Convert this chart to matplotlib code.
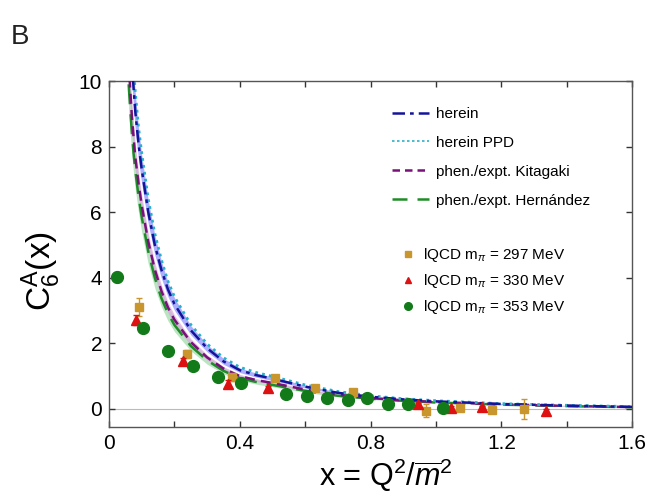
import matplotlib
matplotlib.use("Agg")
import matplotlib.pyplot as plt
from matplotlib.lines import Line2D

plt.rcParams['font.family'] = ['Liberation Sans', 'DejaVu Sans']
plt.rcParams['mathtext.fontset'] = 'custom'
plt.rcParams['mathtext.rm'] = 'Liberation Sans'
plt.rcParams['mathtext.it'] = 'Liberation Sans:italic'
plt.rcParams['mathtext.bf'] = 'Liberation Sans:bold'

# ---------------- data ----------------
curve_x = [0.06, 0.065, 0.07, 0.075, 0.08, 0.09, 0.10, 0.12, 0.14, 0.16, 0.18, 0.20, 0.25,
           0.30, 0.35, 0.40, 0.45, 0.50, 0.60, 0.70, 0.80, 0.90, 1.00, 1.20, 1.40, 1.60]
herein = [12.5, 11.4, 10.5, 9.8, 9.1, 8.1, 7.3, 6.0, 5.0, 4.25, 3.65, 3.2, 2.4,
          1.85, 1.45, 1.18, 1.03, 0.92, 0.68, 0.49, 0.37, 0.29, 0.23, 0.15, 0.10, 0.06]
herein_err = [0.75, 0.68, 0.63, 0.59, 0.55, 0.49, 0.44, 0.36, 0.30, 0.26, 0.22, 0.19, 0.14,
              0.11, 0.09, 0.07, 0.062, 0.055, 0.041, 0.03, 0.022, 0.017, 0.014, 0.009, 0.006, 0.004]
herein_ppd = [13.3, 12.1, 11.1, 10.4, 9.7, 8.6, 7.8, 6.4, 5.35, 4.55, 3.9, 3.42, 2.57,
              1.98, 1.56, 1.27, 1.11, 0.99, 0.73, 0.53, 0.40, 0.31, 0.25, 0.16, 0.11, 0.07]
kitagaki = [10.6, 9.7, 8.9, 8.3, 7.7, 6.9, 6.2, 5.1, 4.25, 3.6, 3.1, 2.72, 2.04,
            1.57, 1.23, 1.0, 0.88, 0.79, 0.59, 0.43, 0.33, 0.26, 0.21, 0.14, 0.09, 0.055]
kitagaki_err = [0.53, 0.49, 0.45, 0.42, 0.39, 0.35, 0.31, 0.26, 0.21, 0.18, 0.16, 0.14, 0.10,
                0.08, 0.06, 0.05, 0.044, 0.04, 0.03, 0.022, 0.017, 0.013, 0.011, 0.007, 0.005, 0.003]
hernandez = [9.9, 9.1, 8.4, 7.8, 7.3, 6.5, 5.85, 4.8, 4.0, 3.38, 2.92, 2.56, 1.92,
             1.48, 1.16, 0.94, 0.82, 0.73, 0.55, 0.40, 0.31, 0.245, 0.195, 0.13, 0.085, 0.05]
hernandez_err = [0.78, 0.71, 0.66, 0.61, 0.57, 0.50, 0.46, 0.38, 0.31, 0.26, 0.23, 0.20, 0.15,
                 0.115, 0.09, 0.074, 0.064, 0.058, 0.043, 0.031, 0.024, 0.019, 0.015, 0.01, 0.007, 0.004]

lq297_x = [0.092, 0.237, 0.375, 0.507, 0.63, 0.745, 0.968, 1.075, 1.17, 1.27]
lq297_y = [3.1, 1.68, 0.96, 0.94, 0.63, 0.53, -0.05, 0.03, -0.04, 0.0]
lq297_e = [0.27, 0.12, 0.10, 0.08, 0.08, 0.08, 0.20, 0.08, 0.08, 0.30]

lq330_x = [0.082, 0.226, 0.363, 0.487, 0.944, 1.045, 1.14, 1.337]
lq330_y = [2.72, 1.45, 0.77, 0.63, 0.14, 0.04, 0.05, -0.06]
lq330_e = [0.15, 0.10, 0.10, 0.08, 0.05, 0.05, 0.05, 0.05]

lq353_x = [0.025, 0.104, 0.18, 0.257, 0.333, 0.405, 0.54, 0.605, 0.667, 0.73, 0.79, 0.852, 0.913, 1.02]
lq353_y = [4.02, 2.47, 1.76, 1.30, 0.97, 0.78, 0.46, 0.40, 0.34, 0.27, 0.33, 0.15, 0.16, 0.03]
lq353_e = [0.15, 0.10, 0.08, 0.08, 0.06, 0.06, 0.05, 0.05, 0.05, 0.05, 0.05, 0.05, 0.05, 0.05]

x_ticks = [0, 0.4, 0.8, 1.2, 1.6]
x_ticklabels = ['0', '0.4', '0.8', '1.2', '1.6']
y_ticks = [0, 2, 4, 6, 8, 10]

# ---------------- figure ----------------
fig = plt.figure(figsize=(6.49, 4.97), dpi=100)
ax = fig.add_axes([0.168, 0.141, 0.806, 0.696])

ax.axhline(0, color='#bbbbbb', lw=0.8, zorder=1)

def band(c, e):
    lo = [a - b for a, b in zip(c, e)]
    hi = [a + b for a, b in zip(c, e)]
    return lo, hi

lo, hi = band(hernandez, hernandez_err)
ax.fill_between(curve_x, lo, hi, color='#8fd49a', alpha=0.6, lw=0, zorder=2)
lo, hi = band(kitagaki, kitagaki_err)
ax.fill_between(curve_x, lo, hi, color='#d7a6dc', alpha=0.7, lw=0, zorder=2)
lo, hi = band(herein, herein_err)
ax.fill_between(curve_x, lo, hi, color='#8c8cff', alpha=0.7, lw=0, zorder=2)

ax.plot(curve_x, hernandez, color='#1e8c28', lw=1.8, ls=(0, (8, 4)), zorder=3)
ax.plot(curve_x, kitagaki, color='#7a107a', lw=1.8, ls=(0, (4, 2.5)), zorder=3)
ax.plot(curve_x, herein_ppd, color='#2ab0c8', lw=2.0, ls=(0, (1, 1.5)), zorder=3)
ax.plot(curve_x, herein, color='#14149a', lw=1.8, ls=(0, (5, 2, 1.5, 2)), zorder=4)

ax.errorbar(lq297_x, lq297_y, yerr=lq297_e, fmt='s', color='#c8962d', ms=6,
            elinewidth=1, capsize=2, zorder=5)
ax.errorbar(lq330_x, lq330_y, yerr=lq330_e, fmt='^', color='#dd1111', ms=7.5,
            elinewidth=1, capsize=2, zorder=6)
ax.errorbar(lq353_x, lq353_y, yerr=lq353_e, fmt='o', color='#137a1a', ms=8.5,
            elinewidth=1, capsize=2, zorder=7)

ax.set_xlim(0, 1.6)
ax.set_ylim(-0.55, 10)
ax.set_xticks(x_ticks)
ax.set_xticklabels(x_ticklabels)
ax.set_xticks([0.2, 0.6, 1.0, 1.4], minor=True)
ax.set_yticks(y_ticks)
ax.tick_params(which='both', direction='in', top=True, right=True, labelsize=15,
               length=4, width=1, color='#333333', pad=5)
for s in ax.spines.values():
    s.set_color('#555555')
    s.set_linewidth(1)

ax.set_xlabel(r'x = Q$^2$/$\overline{m}^2$', fontsize=22)
ax.xaxis.set_label_coords(0.53, -0.085, transform=ax.transAxes)
ax.xaxis.label.set_va('top')
ax.set_ylabel(r'C$_6^{\rm A}$(x)', fontsize=24)
ax.yaxis.set_label_coords(-0.13, 0.45, transform=ax.transAxes)
ax.yaxis.label.set_va('center')

# legends
line_handles = [
    Line2D([], [], color='#14149a', lw=1.8, ls=(0, (5, 2, 1.5, 2))),
    Line2D([], [], color='#2ab0c8', lw=1.2, ls=(0, (1.5, 1.5))),
    Line2D([], [], color='#7a107a', lw=1.8, ls=(0, (3, 2))),
    Line2D([], [], color='#1e8c28', lw=1.8, ls=(0, (6, 4))),
]
line_labels = ['herein', 'herein PPD', 'phen./expt. Kitagaki', 'phen./expt. Hernández']
leg1 = fig.legend(line_handles, line_labels, loc='upper left',
                  bbox_to_anchor=(0.604, 0.785), frameon=False, fontsize=11,
                  handlelength=2.4, handletextpad=0.5, labelspacing=0.98,
                  borderpad=0, borderaxespad=0)

mk_handles = [
    Line2D([], [], color='#c8962d', marker='s', ls='none', ms=4.5),
    Line2D([], [], color='#dd1111', marker='^', ls='none', ms=5),
    Line2D([], [], color='#137a1a', marker='o', ls='none', ms=5.5),
]
mk_labels = [r'lQCD m$_{\pi}$ = 297 MeV', r'lQCD m$_{\pi}$ = 330 MeV', r'lQCD m$_{\pi}$ = 353 MeV']
leg2 = fig.legend(mk_handles, mk_labels, loc='upper left',
                  bbox_to_anchor=(0.618, 0.505), frameon=False, fontsize=11,
                  handlelength=0.9, handletextpad=0.55, labelspacing=0.52,
                  borderpad=0, borderaxespad=0)

fig.text(0.016, 0.912, 'B', fontsize=20, color='#222222')

fig.savefig('out.png', dpi=100)
